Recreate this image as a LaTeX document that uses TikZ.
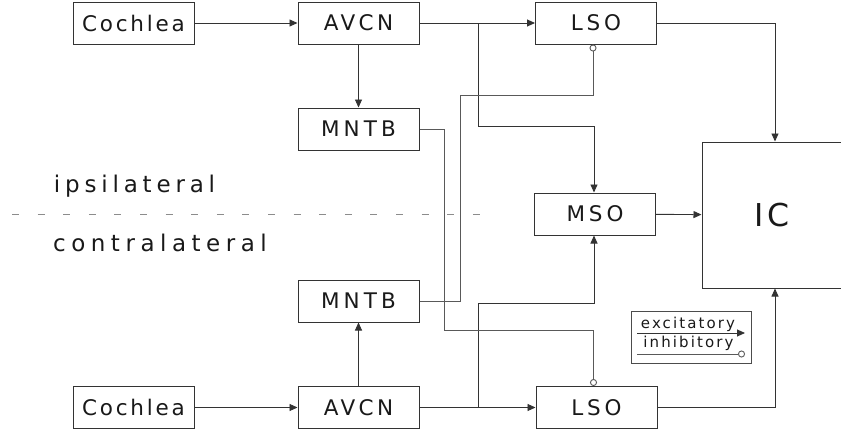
\documentclass[tikz,border=0pt]{standalone}
\usepackage{fontspec}
\setmainfont{DejaVu Sans}
\usetikzlibrary{arrows.meta}
\newcommand\trk[2]{{\addfontfeature{LetterSpace=#1}#2}}
\begin{document}
\begin{tikzpicture}[x=1pt,y=-1pt,
  box/.style={draw=black!80,line width=1pt,minimum width=121pt,minimum height=42pt,inner sep=0pt,
    font=\fontsize{21.5}{24}\selectfont,text=black!90},
  exc/.style={draw=black!80,line width=0.9pt,-{Triangle[length=8pt,width=7pt]}},
  inh/.style={draw=black!65,line width=0.9pt,-{Circle[open,length=7pt,width=7pt,line width=0.9pt]}},
  lbl/.style={font=\fontsize{23}{26}\selectfont,text=black!90,inner sep=0pt},
  leg/.style={font=\fontsize{15}{17}\selectfont,text=black!90,inner sep=0pt}]
\useasboundingbox (0,0) rectangle (841,434);
% boxes
\node[box] (coch1) at (133.5,23) {\trk{13}{Cochlea}};
\node[box] (avcn1) at (358.5,23) {\trk{16}{AVCN}};
\node[box] (lso1)  at (596,23) {\trk{18}{LSO}};
\node[box] (mntb1) at (358.5,129) {\trk{19}{MNTB}};
\node[box] (mso)   at (595,214) {\trk{18}{MSO}};
\node[box] (mntb2) at (358.5,301) {\trk{19}{MNTB}};
\node[box] (coch2) at (133.5,407.5) {\trk{13}{Cochlea}};
\node[box] (avcn2) at (358.5,407.5) {\trk{16}{AVCN}};
\node[box] (lso2)  at (596.5,407.5) {\trk{18}{LSO}};
\node[box,minimum width=140pt,minimum height=146pt,font=\fontsize{31.5}{34}\selectfont] (ic) at (772,215) {\trk{13}{IC}};
% side labels
\node[lbl] (ipsi) at (134.5,186) {\trk{21}{ipsilateral}};
\node[lbl] (contra) at (160,243) {\trk{24}{contralateral}};
\draw[draw=black!45,line width=1pt,dash pattern=on 7pt off 18.6pt] (12,214) -- (482,214);
% legend
\node[draw=black!70,line width=1pt,minimum width=120pt,minimum height=52pt,inner sep=0pt] (legend) at (691,337) {};
\node[leg] (lexc) at (688,324) {\trk{14}{excitatory}};
\node[leg] (linh) at (688.5,343) {\trk{14}{inhibitory}};
\coordinate (le1) at (637,333);
\coordinate (le2) at (745,333);
\coordinate (li1) at (637,354);
\coordinate (li2) at (745,354);
\draw[exc] (le1) -- (le2);
\draw[inh] (li1) -- (li2);
% ipsilateral excitatory
\draw[exc] (coch1) -- (avcn1);
\draw[exc] (avcn1) -- (lso1);
\draw[exc] (avcn1) -- (mntb1);
\coordinate (j1) at (478,23);
\draw[exc] (j1) -- (478,126) -| ([xshift=-1pt]mso.north);
% contralateral excitatory
\draw[exc] (coch2) -- (avcn2);
\draw[exc] (avcn2) -- (lso2);
\draw[exc] (avcn2) -- (mntb2);
\coordinate (j2) at (478,407.5);
\draw[exc] (j2) -- (478,303) -| ([xshift=-1pt]mso.south);
% inhibitory
\draw[inh] (mntb1.east) -- (444,129) -- (444,330) -| ([xshift=-3pt]lso2.north);
\draw[inh] (mntb2.east) -- (460,301) -- (460,95) -| ([xshift=-3pt]lso1.south);
% to IC
\draw[exc] (lso1.east) -| ([xshift=3pt]ic.north);
\draw[exc] (mso) -- (ic);
\draw[exc] (lso2.east) -| ([xshift=3pt]ic.south);
\end{tikzpicture}
\end{document}
